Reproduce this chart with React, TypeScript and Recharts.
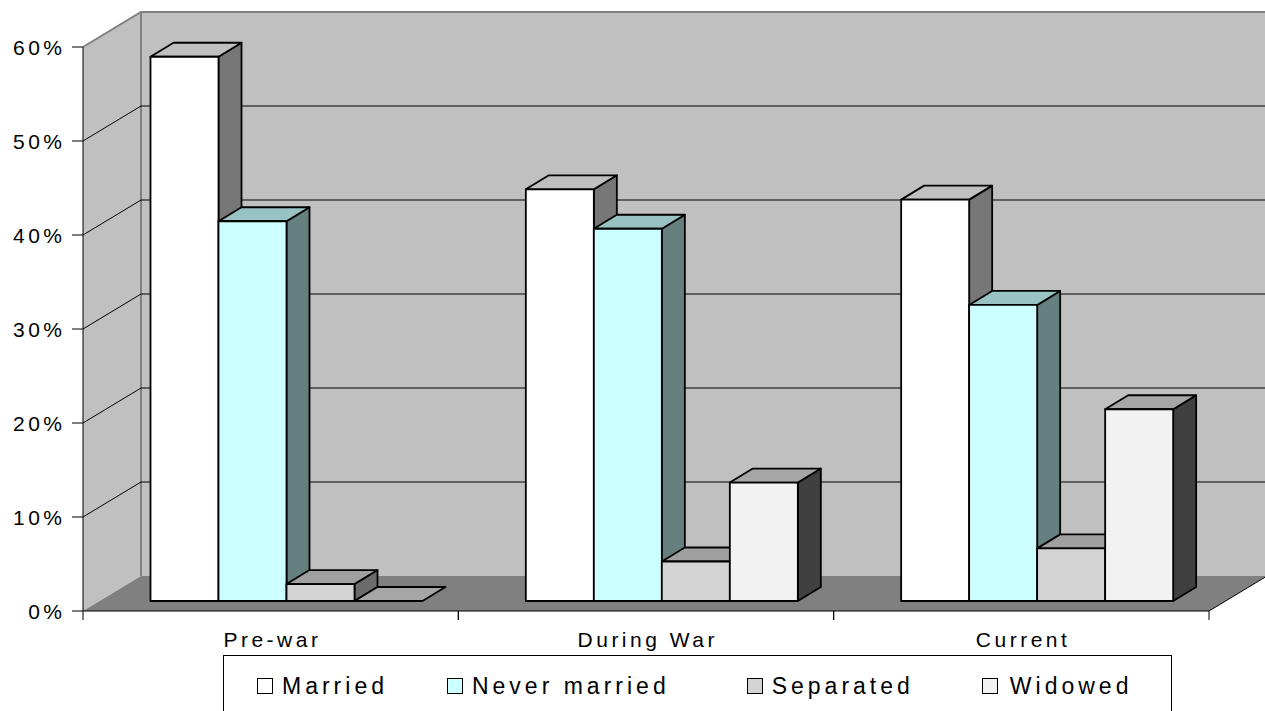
import React from 'react';
import { BarChart, Bar, XAxis, YAxis, CartesianGrid, Legend } from 'recharts';

const periods = ['Pre-war', 'During War', 'Current'];
const married = [0.579, 0.438, 0.427];
const neverMarried = [0.404, 0.396, 0.315];
const separated = [0.018, 0.042, 0.056];
const widowed = [0, 0.126, 0.204];
const percentTicks = [0, 0.1, 0.2, 0.3, 0.4, 0.5, 0.6];

const rows = periods.map((period, i) => ({
  period,
  married: married[i],
  neverMarried: neverMarried[i],
  separated: separated[i],
  widowed: widowed[i],
}));

const series = [
  { key: 'married', name: 'Married', front: '#FFFFFF', top: '#C0C0C0', side: '#777777' },
  { key: 'neverMarried', name: 'Never married', front: '#CCFFFF', top: '#99C2C2', side: '#668080' },
  { key: 'separated', name: 'Separated', front: '#D4D4D4', top: '#A0A0A0', side: '#6B6B6B' },
  { key: 'widowed', name: 'Widowed', front: '#F2F2F2', top: '#A6A6A6', side: '#404040' },
];

// spacing before each legend entry
const legendLead = [0, 59, 77, 68];

// oblique projection: walls recede up-right, bars sit partway into the depth
const WALL_DX = 58;
const WALL_DY = 35;
const BAR_SHIFT_X = 16.5;
const BAR_SHIFT_Y = 10;
const BAR_DX = 23;
const BAR_DY = 14;

const FONT = "'Liberation Sans', Arial, sans-serif";

const Box3D = (props: any) => {
  const { x, y, width, height, colors } = props;
  const fx = x + BAR_SHIFT_X;
  const fy = y - BAR_SHIFT_Y;
  const w = width;
  const h = Math.max(height || 0, 0);
  const top = `${fx},${fy} ${fx + BAR_DX},${fy - BAR_DY} ${fx + w + BAR_DX},${fy - BAR_DY} ${fx + w},${fy}`;
  const side = `${fx + w},${fy} ${fx + w + BAR_DX},${fy - BAR_DY} ${fx + w + BAR_DX},${fy + h - BAR_DY} ${fx + w},${fy + h}`;
  return (
    <g stroke="#000" strokeWidth={1.8} strokeLinejoin="round">
      {h > 0 && <polygon points={side} fill={colors.side} />}
      <polygon points={top} fill={colors.top} />
      {h > 0 && <rect x={fx} y={fy} width={w} height={h} fill={colors.front} />}
    </g>
  );
};

// each horizontal grid line runs along the side wall and then across the back wall;
// the first one also lays down the walls and floor underneath everything
const WallGridLine = (props: any) => {
  const { x1, y1, x2, index, y, height } = props;
  const top = typeof y === 'number' ? y : 47;
  const bottom = typeof height === 'number' ? top + height : 611;
  const bx = x1 + WALL_DX;
  const isTop = Math.abs(y1 - top) < 0.5;
  const isBottom = Math.abs(y1 - bottom) < 0.5;

  return (
    <g>
      {index === 0 && (
        <g>
          <polygon
            points={`${x1},${top} ${bx},${top - WALL_DY} ${bx},${bottom - WALL_DY} ${x1},${bottom}`}
            fill="#C0C0C0"
          />
          <polygon
            points={`${bx},${top - WALL_DY} ${x2 + WALL_DX},${top - WALL_DY} ${x2 + WALL_DX},${bottom - WALL_DY} ${bx},${bottom - WALL_DY}`}
            fill="#C0C0C0"
          />
          <polygon
            points={`${x1},${bottom} ${bx},${bottom - WALL_DY} ${x2 + WALL_DX},${bottom - WALL_DY} ${x2},${bottom}`}
            fill="#808080"
          />
          <line x1={bx} y1={top - WALL_DY} x2={bx} y2={bottom - WALL_DY} stroke="#808080" strokeWidth={2} />
          <line x1={x2} y1={bottom} x2={x2 + WALL_DX} y2={bottom - WALL_DY} stroke="#000" strokeWidth={1} />
        </g>
      )}
      {isTop ? (
        <polyline
          points={`${x1},${y1} ${bx},${y1 - WALL_DY} ${x2 + WALL_DX},${y1 - WALL_DY}`}
          fill="none"
          stroke="#808080"
          strokeWidth={2}
        />
      ) : isBottom ? null : (
        <polyline
          points={`${x1},${y1} ${bx},${y1 - WALL_DY} ${x2 + WALL_DX},${y1 - WALL_DY}`}
          fill="none"
          stroke="#000"
          strokeWidth={1}
        />
      )}
    </g>
  );
};

const PercentTick = (props: any) => {
  const { x, y, payload } = props;
  return (
    <text
      x={x - 6.5}
      y={y}
      dy="0.36em"
      textAnchor="end"
      fontFamily={FONT}
      fontSize={21}
      letterSpacing={3.5}
      fill="#000"
    >
      {`${Math.round(payload.value * 100)}%`}
    </text>
  );
};

const PeriodTick = (props: any) => {
  const { x, y, payload } = props;
  const half = payload.offset || 187.7;
  return (
    <g>
      <line x1={x - half} y1={y} x2={x - half} y2={y + 9} stroke="#000" strokeWidth={1} />
      <line x1={x + half} y1={y} x2={x + half} y2={y + 9} stroke="#000" strokeWidth={1} />
      <text
        x={x + 1.75}
        y={y + 36}
        textAnchor="middle"
        fontFamily={FONT}
        fontSize={21}
        letterSpacing={3.5}
        fill="#000"
      >
        {payload.value}
      </text>
    </g>
  );
};

const LegendBox = () => (
  <div
    style={{
      boxSizing: 'border-box',
      width: 949,
      height: 70,
      border: '1px solid #000',
      background: '#fff',
      display: 'flex',
      alignItems: 'center',
      paddingLeft: 33,
      paddingBottom: 8,
      fontFamily: FONT,
      fontSize: 23,
      letterSpacing: 4,
      color: '#000',
    }}
  >
    {series.map((s, i) => (
      <div key={s.key} style={{ display: 'flex', alignItems: 'center', marginLeft: legendLead[i] }}>
        <span
          style={{
            boxSizing: 'border-box',
            width: 16,
            height: 16,
            border: '1.5px solid #000',
            background: s.front,
            marginRight: i === series.length - 1 ? 12 : 9,
          }}
        />
        <span style={{ lineHeight: '23px' }}>{s.name}</span>
      </div>
    ))}
  </div>
);

export default function App() {
  return (
    <div style={{ position: 'absolute', left: 0, top: 0, width: 1265, height: 711, background: '#fff' }}>
      <BarChart
        width={1265}
        height={711}
        data={rows}
        margin={{ top: 47, right: 56, bottom: 99, left: 82 }}
        barCategoryGap={51}
        barGap={0}
      >
        <CartesianGrid vertical={false} horizontal={(p: any) => <WallGridLine {...p} />} />
        <XAxis
          dataKey="period"
          height={1}
          tickSize={0}
          tickMargin={0}
          tickLine={false}
          axisLine={{ stroke: '#000', strokeWidth: 1 }}
          tick={<PeriodTick />}
          interval={0}
        />
        <YAxis
          width={1}
          domain={[0, 0.6]}
          ticks={percentTicks}
          tickSize={11}
          tickMargin={0}
          tickLine={{ stroke: '#000', strokeWidth: 1 }}
          axisLine={{ stroke: '#000', strokeWidth: 1 }}
          tick={<PercentTick />}
          interval={0}
        />
        {series.map((s) => (
          <Bar
            key={s.key}
            dataKey={s.key}
            name={s.name}
            fill={s.front}
            isAnimationActive={false}
            shape={(p: any) => <Box3D {...p} colors={s} />}
          />
        ))}
        <Legend
          layout="horizontal"
          verticalAlign="middle"
          align="center"
          wrapperStyle={{ left: 223, top: 655, width: 949, height: 70 }}
          content={() => <LegendBox />}
        />
      </BarChart>
    </div>
  );
}
